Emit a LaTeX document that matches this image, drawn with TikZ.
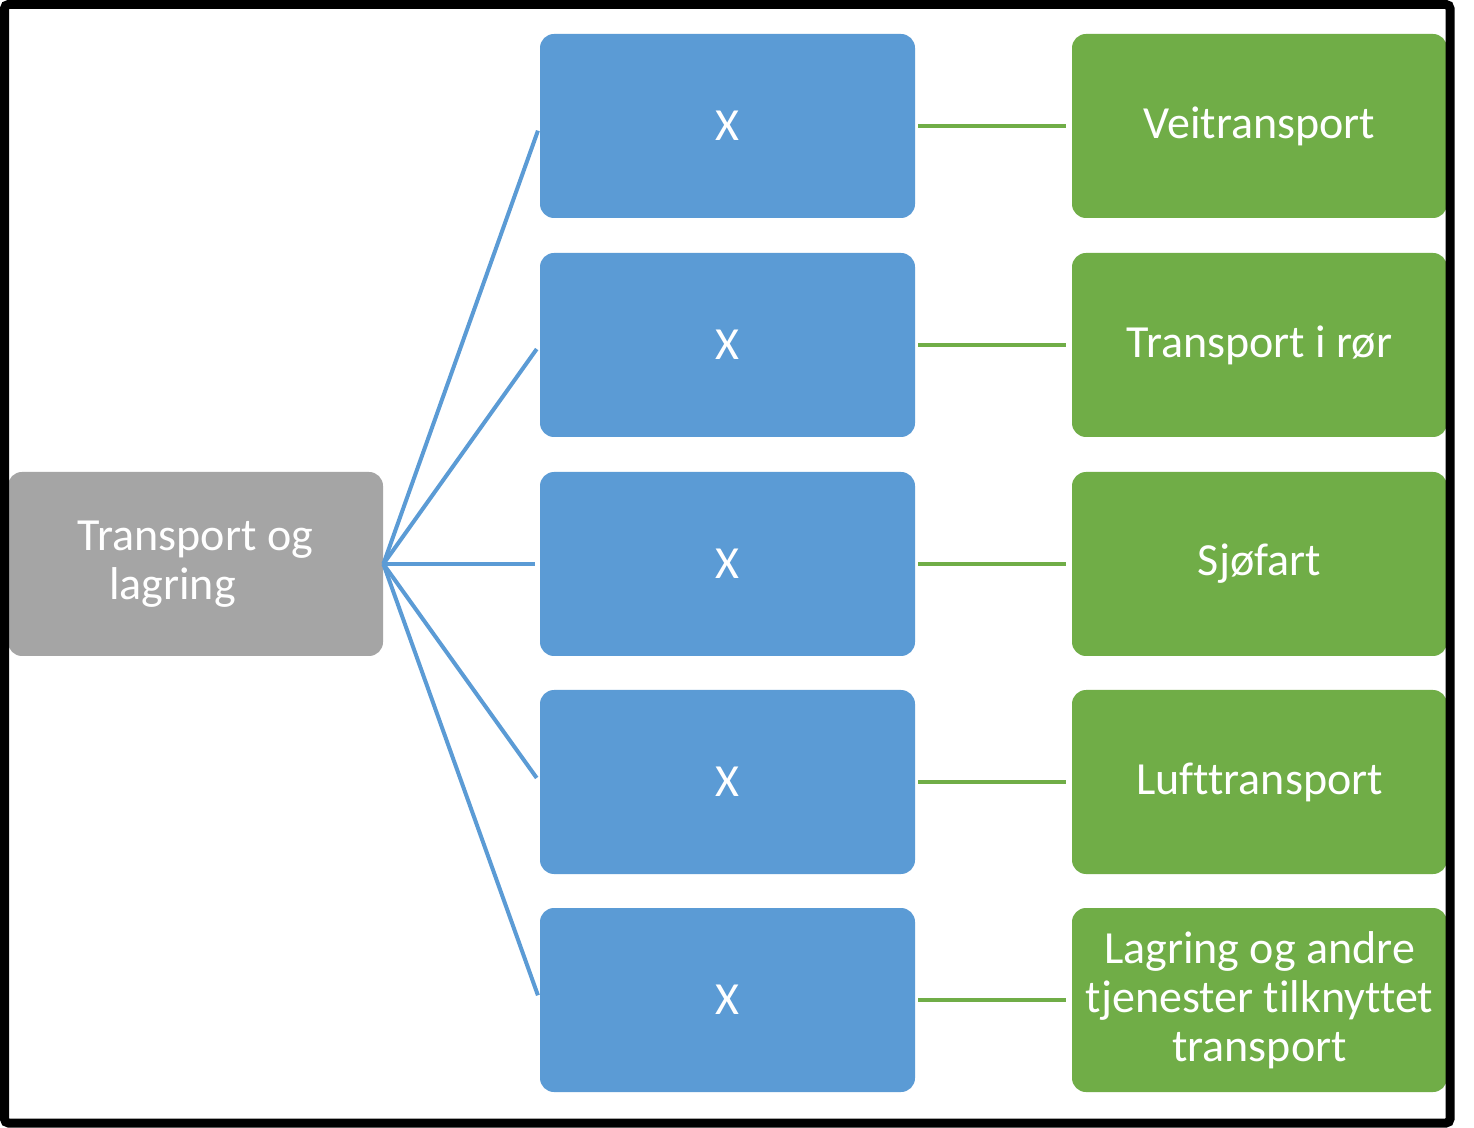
\documentclass[tikz,border=0pt]{standalone}
\usepackage{fontspec}
\setmainfont{Carlito}[Ligatures={NoCommon}]
\definecolor{cblue}{HTML}{5B9BD5}
\definecolor{cgreen}{HTML}{70AD47}
\definecolor{cgray}{HTML}{A5A5A5}
\begin{document}
\begin{tikzpicture}[x=0.5pt,y=-0.5pt,
  box/.style={rounded corners=7pt, minimum width=187.5pt, minimum height=92pt, inner sep=2pt,
    text=white, align=center, font=\fontsize{23}{24.5}\selectfont},
  bluebox/.style={box, fill=cblue},
  greenbox/.style={box, fill=cgreen},
  graybox/.style={box, fill=cgray},
  blueline/.style={draw=cblue, line width=2pt, shorten >=2.5pt},
  greenline/.style={draw=cgreen, line width=2pt, shorten <=1.5pt, shorten >=3pt}]
\useasboundingbox (0,0) rectangle (1474,1128);
\fill[white] (0,0) rectangle (1474,1128);
\node[graybox] (g) at (195.5,564) {Transport og\\lagring\hspace*{1em}};
\foreach \i/\y/\t in {1/126/Veitransport, 2/345/Transport i rør, 3/564/Sjøfart, 4/782/Lufttransport, 5/1000/{Lagring og andre\\tjenester tilknyttet\\transport}} {
  \node[bluebox] (b\i) at (727.5,\y) {X};
  \node[greenbox] (r\i) at (1259.5,\y) {\t};
  \draw[blueline] (g.east) -- (b\i.west);
  \draw[greenline] (b\i.east) -- (r\i.west);
}
\draw[black, line width=4.5pt, rounded corners=2pt] (4.5,4.5) rectangle (1450,1123);
\end{tikzpicture}
\end{document}
